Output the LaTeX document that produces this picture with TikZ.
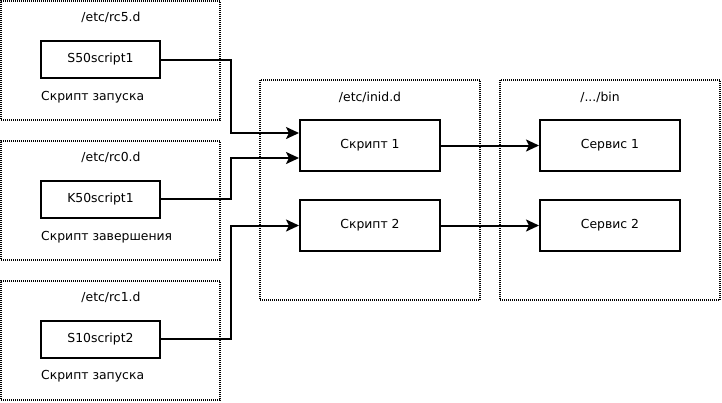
\documentclass[tikz,border=0pt]{standalone}
\usepackage{fontspec}
\setmainfont{DejaVu Sans}
\usetikzlibrary{positioning,arrows.meta}
\begin{document}
\begin{tikzpicture}[x=1pt, y=1pt, node distance={140pt},
	frame/.style = {draw, line width=2pt, dash pattern=on 1pt off 1pt, minimum width=219pt, minimum height=119pt, inner sep=0pt},
	bigframe/.style = {frame, minimum width=220pt, minimum height=220pt},
	file/.style = {draw, line width=2pt, minimum width=119pt, minimum height=37pt, inner sep=0pt},
	prog/.style = {draw, line width=2pt, minimum width=140pt, minimum height=51pt, inner sep=0pt},
	lbl/.style = {inner sep=0pt},
	conn/.style = {line width=2pt, -{Stealth[length=13pt, width=12pt, inset=3pt]}},
	font=\fontsize{12.4}{14}\selectfont]
		\useasboundingbox (0,0) rectangle (722,-402);
		% run levels
		\node[frame] (rc5) at (110.5,-60.5) {};
		\node[frame] (rc0) [below of=rc5] {};
		\node[frame] (rc1) [below of=rc0] {};
		\node[lbl] (rc5name) at (111,-17) {/etc/rc5.d};
		\node[lbl] (rc0name) at (111,-157) {/etc/rc0.d};
		\node[lbl] (rc1name) at (111,-297) {/etc/rc1.d};
		\node[file] (s50) at (100.5,-59.5) {S50script1};
		\node[file] (k50) at (100.5,-199) {K50script1};
		\node[file] (s10) at (100.5,-339) {S10script2};
		\node[lbl, anchor=west] (s50txt) at (41,-97) {Скрипт запуска};
		\node[lbl, anchor=west] (k50txt) at (41,-237) {Скрипт завершения};
		\node[lbl, anchor=west] (s10txt) at (41,-376) {Скрипт запуска};
		% init scripts and services
		\node[bigframe] (inid) at (370,-190) {};
		\node[bigframe] (bin) [right of=inid, node distance=240pt] {};
		\node[lbl] (inidname) at (370,-97) {/etc/inid.d};
		\node[lbl] (binname) at (600,-97) {/.../bin};
		\node[prog] (script1) at (370,-145.5) {Скрипт 1};
		\node[prog] (script2) [below of=script1, node distance=80pt] {Скрипт 2};
		\node[prog] (serv1) [right of=script1, node distance=240pt] {Сервис 1};
		\node[prog] (serv2) [right of=script2, node distance=240pt] {Сервис 2};
		% links
		\draw[conn] (s50.east) -- ++(70,0) |- ([yshift=12.5pt]script1.west);
		\draw[conn] (k50.east) -- ++(70,0) |- ([yshift=-12.5pt]script1.west);
		\draw[conn] (s10.east) -- ++(70,0) |- (script2.west);
		\draw[conn] (script1) -- (serv1);
		\draw[conn] (script2) -- (serv2);
\end{tikzpicture}
\end{document}
